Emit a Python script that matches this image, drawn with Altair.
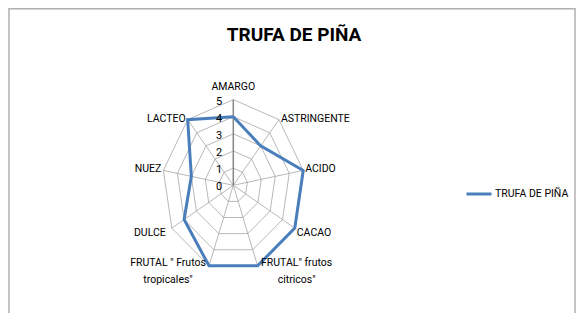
import math
import altair as alt
import pandas as pd

title_text = "TRUFA DE PIÑA"
series_name = "TRUFA DE PIÑA"
categories = ["AMARGO", "ASTRINGENTE", "ACIDO", "CACAO",
              'FRUTAL" frutos\ncitricos"', 'FRUTAL " Frutos\ntropicales"',
              "DULCE", "NUEZ", "LACTEO"]
values = [4, 3, 5, 5, 5, 5, 4, 3, 5]
levels = [0, 1, 2, 3, 4, 5]

FONT = "Roboto"
FS = 10.5
N = len(categories)
RMAX = max(levels)

# series (closed polygon)
series = pd.DataFrame({
    "i": list(range(N + 1)),
    "value": [values[k % N] for k in range(N + 1)],
    "series": [series_name] * (N + 1),
})
# grid rings
rings = pd.DataFrame([{"i": k, "value": lv, "level": lv}
                      for lv in levels[1:] for k in range(N + 1)])
# spokes
spokes = pd.DataFrame([{"i": k, "value": r, "cat": categories[k]}
                       for k in range(N) for r in (0, RMAX)])
# category labels
labels = pd.DataFrame({"i": list(range(N)), "value": [RMAX] * N, "label": categories})
# tick labels
ticks = pd.DataFrame({"i": [0] * len(levels), "value": levels,
                      "tick": [str(l) for l in levels]})

W, H = 568, 305
cx, cy = 225.3, 177.3
px_x, px_y = 14.2, 17.14
xdom = [-cx / px_x, (W - cx) / px_x]
ydom = [-(H - cy) / px_y, cy / px_y]

X = alt.X("px:Q", scale=alt.Scale(domain=xdom, nice=False, zero=False), axis=None)
Y = alt.Y("py:Q", scale=alt.Scale(domain=ydom, nice=False, zero=False), axis=None)


def polar(ch):
    return ch.transform_calculate(
        ang=f"datum.i * 2 * PI / {N}"
    ).transform_calculate(
        px="datum.value * sin(datum.ang)",
        py="datum.value * cos(datum.ang)",
    )


ring_layer = polar(alt.Chart(rings)).mark_line(color="#a6a6a6", strokeWidth=0.8).encode(
    x=X, y=Y, order="i:Q", detail="level:N")

spoke_layer = polar(alt.Chart(spokes).transform_filter("datum.i > 0")).mark_line(
    color="#a6a6a6", strokeWidth=0.8).encode(x=X, y=Y, detail="cat:N")

main_spoke = polar(alt.Chart(spokes).transform_filter("datum.i == 0")).mark_line(
    color="#868686", strokeWidth=1.5).encode(x=X, y=Y)

series_layer = polar(alt.Chart(series)).mark_line(strokeWidth=3, strokeJoin="miter").encode(
    x=X, y=Y, order="i:Q",
    color=alt.Color("series:N",
                    scale=alt.Scale(domain=[series_name], range=["#4a7ebb"]),
                    legend=alt.Legend(title=None, orient="none", legendX=457, legendY=172,
                                      symbolType="stroke", symbolSize=625,
                                      symbolStrokeWidth=3, labelFont=FONT,
                                      labelFontSize=FS, labelColor="#000000",
                                      labelOffset=2, padding=0)))

base_lab = polar(alt.Chart(labels))


def lab(filter_expr, **kw):
    return base_lab.transform_filter(filter_expr).mark_text(
        font=FONT, fontSize=FS, color="#000000", lineBreak="\n", lineHeight=17, **kw
    ).encode(x=X, y=Y, text="label:N")


lab_top = lab("datum.i == 0", align="center", baseline="middle", dy=-13)
lab_right = lab("datum.i == 1 || datum.i == 2", align="left", baseline="middle", dx=2, dy=-1)
lab_right2 = lab("datum.i == 3", align="left", baseline="middle", dx=2, dy=5)
lab_citr = lab("datum.i == 4", align="center", baseline="top", dx=39, dy=-8)
lab_trop = lab("datum.i == 5", align="center", baseline="top", dx=-41, dy=-8)
lab_left2 = lab("datum.i == 6", align="right", baseline="middle", dx=-6, dy=5)
lab_left = lab("datum.i == 7 || datum.i == 8", align="right", baseline="middle", dx=-2, dy=-1)

tick_layer = polar(alt.Chart(ticks)).mark_text(
    font=FONT, fontSize=11, color="#000000", align="right", baseline="middle", dx=-11, dy=2
).encode(x=X, y=Y, text="tick:N")

title_layer = alt.Chart(pd.DataFrame({"t": [title_text]})).mark_text(
    font=FONT, fontSize=19, fontWeight="bold", color="#000000", align="center", baseline="middle"
).encode(x=alt.value(286), y=alt.value(27), text="t:N")

border = pd.DataFrame({"k": [0]})
top_rule = alt.Chart(border).mark_rule(color="#b0b0b0", strokeWidth=1.5).encode(
    x=alt.value(1), x2=alt.value(W - 1), y=alt.value(0.75))
left_rule = alt.Chart(border).mark_rule(color="#b0b0b0", strokeWidth=1.5).encode(
    x=alt.value(1), y=alt.value(0), y2=alt.value(H))
right_rule = alt.Chart(border).mark_rule(color="#b0b0b0", strokeWidth=1.5).encode(
    x=alt.value(W - 1), y=alt.value(0), y2=alt.value(H))

chart = alt.layer(
    top_rule, left_rule, right_rule,
    ring_layer, spoke_layer, main_spoke, series_layer,
    lab_top, lab_right, lab_right2, lab_citr, lab_trop, lab_left2, lab_left,
    tick_layer, title_layer,
).properties(
    width=W, height=H, autosize=alt.AutoSizeParams(type="none"), padding=0,
    background="#ffffff",
).configure_view(stroke=None)

chart.save("out.html", embed_options={"renderer": "svg", "actions": False})
